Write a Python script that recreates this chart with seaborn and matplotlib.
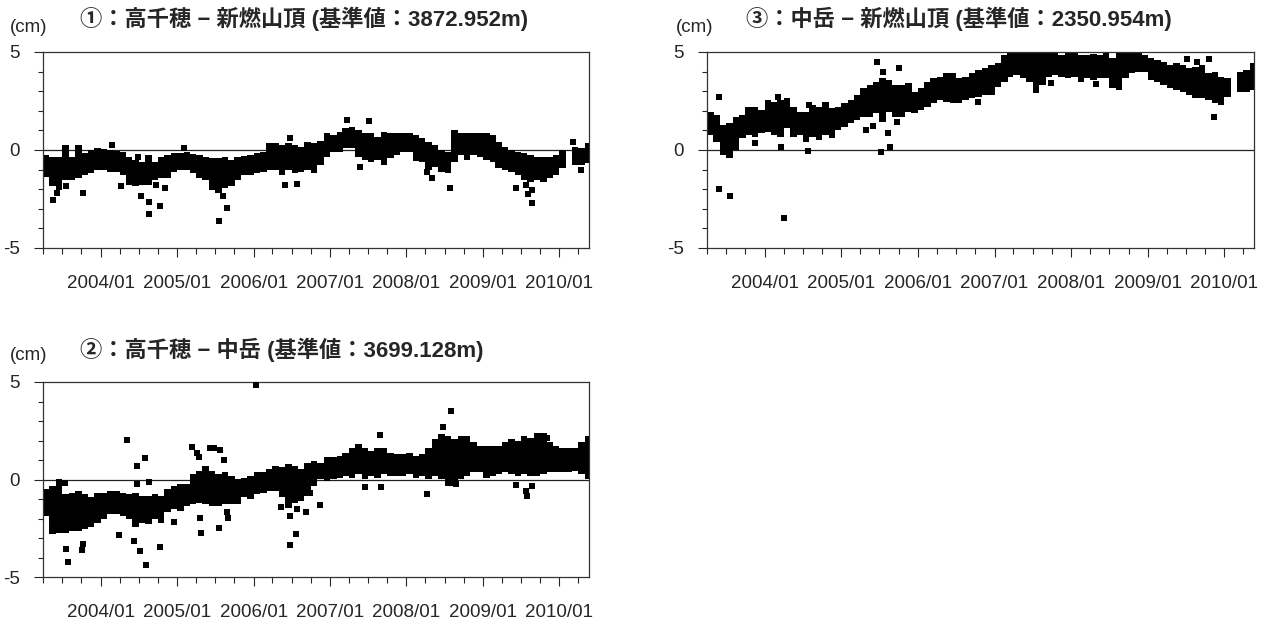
import numpy as np
import pandas as pd
import seaborn as sns
import matplotlib.pyplot as plt
import matplotlib.dates as mdates
from matplotlib.ticker import MultipleLocator

# monthly bins, 2003/04 .. 2010/05
months = pd.date_range('2003-04-01', '2010-05-01', freq='MS')
start = pd.Timestamp('2003-04-01')
nan = np.nan

# (1) Takachiho - Shinmoe summit : upper / lower edge of the daily cloud per month (cm)
p1_high = [-0.25, -0.34, -0.34, 0.25, -0.34, 0.25, -0.17, 0.0, 0.08, 0.03,
           0.0, -0.03, -0.08, -0.34, -0.5, -0.6, -0.25, -0.6, -0.34, -0.25,
           -0.17, -0.14, -0.08, -0.2, -0.25, -0.34, -0.42, -0.42, -0.34, -0.5,
           -0.34, -0.3, -0.25, -0.17, -0.08, 0.34, 0.34, 0.25, 0.34, 0.25,
           0.17, 0.42, 0.34, 0.45, 0.85, 0.76, 0.93, 1.1, 1.19, 1.02,
           0.85, 0.85, 0.68, 0.93, 0.85, 0.85, 0.85, 0.85, 0.76, 0.59,
           0.42, 0.25, 0.0, -0.08, 1.02, 0.85, 0.85, 0.85, 0.88, 0.85,
           0.76, 0.42, 0.17, 0.0, -0.08, -0.17, -0.25, -0.34, -0.34, -0.34,
           -0.25, 0.0, nan, 0.17, 0.08, 0.34]
p1_low = [-1.36, -1.86, -2.03, -1.53, -1.53, -1.44, -1.27, -1.19, -1.02, -1.02,
          -1.1, -1.1, -1.27, -1.78, -1.86, -1.78, -1.78, -1.53, -1.44, -1.44,
          -1.1, -1.02, -1.02, -1.19, -1.44, -1.53, -2.03, -2.2, -1.95, -1.86,
          -1.53, -1.27, -1.27, -1.19, -1.1, -1.02, -1.02, -1.27, -1.02, -1.19,
          -1.1, -1.02, -1.19, -0.76, -0.34, -0.08, -0.08, 0.08, 0.08, -0.34,
          -0.5, -0.6, -0.5, -0.76, -0.42, -0.25, -0.08, -0.08, -0.34, -0.6,
          -1.02, -0.85, -1.1, -1.19, -0.6, -0.25, -0.5, -0.25, -0.34, -0.5,
          -0.6, -0.93, -1.02, -1.1, -1.27, -1.53, -1.61, -1.53, -1.61, -1.44,
          -1.27, -0.93, nan, -0.76, -0.76, -0.68]
# isolated points: months after 2003/04/01, value in cm
p1_out_m = [1.6, 2.2, 3.6, 6.2, 10.8, 12.2, 14.9, 15.4, 16.7, 16.7, 17.8, 18.4, 19.1,
            22.1, 27.6, 28.3, 28.8, 37.9, 38.7, 39.8, 47.7, 51.1, 49.8, 60.2, 61.1,
            63.9, 58.5, 74.3, 75.8, 76.1, 76.7, 76.8, 83.2, 84.4]
p1_out_cm = [-2.54, -2.2, -1.86, -2.2, 0.25, -1.86, -0.34, -2.37, -2.63, -3.25, -1.78, -2.85, -1.92,
             0.08, -3.61, -2.37, -2.97, -1.78, 0.59, -1.73, 1.53, 1.49, -0.85, -1.10, -1.44,
             -1.92, -0.42, -1.92, -1.78, -2.25, -2.03, -2.68, 0.42, -1.02]

# (2) Takachiho - Nakadake
p2_high = [-0.50, -0.32, 0.02, -0.75, -0.67, -0.58, -0.75, -0.92, -0.67, -0.67,
           -0.58, -0.58, -0.67, -0.75, -0.67, -0.84, -0.84, -0.75, -0.84, -0.50,
           -0.32, -0.24, -0.24, 0.27, 0.44, 0.70, 0.44, 0.27, 0.36, 0.19,
           0.02, 0.10, 0.19, 0.36, 0.36, 0.53, 0.70, 0.62, 0.79, 0.70,
           0.53, 0.87, 0.96, 0.87, 1.13, 1.13, 1.21, 1.38, 1.64, 1.81,
           1.64, 1.47, 1.64, 1.64, 1.38, 1.30, 1.30, 1.38, 1.21, 1.30,
           1.64, 2.07, 2.32, 2.24, 2.07, 2.24, 2.24, 1.90, 1.73, 1.73,
           1.73, 1.73, 1.90, 2.07, 1.98, 2.24, 2.15, 2.41, 2.41, 1.90,
           1.73, 1.64, 1.64, 1.64, 1.90, 2.24]
p2_low = [-1.86, -2.80, -2.72, -2.72, -2.63, -2.63, -2.55, -2.46, -2.21, -2.03,
          -1.78, -1.78, -1.86, -2.03, -2.46, -2.21, -2.29, -2.03, -2.21, -1.69,
          -1.52, -1.61, -1.35, -1.26, -1.18, -1.26, -1.35, -1.35, -1.26, -1.26,
          -1.26, -0.92, -1.01, -0.75, -0.67, -0.58, -0.58, -0.92, -1.44, -1.18,
          -1.09, -0.84, -0.32, 0.02, -0.07, 0.02, 0.10, 0.19, 0.10, 0.27,
          0.02, 0.19, 0.10, 0.27, 0.19, 0.19, 0.19, 0.27, 0.10, 0.19,
          0.02, 0.19, 0.02, -0.32, -0.32, 0.02, 0.19, 0.36, 0.36, 0.10,
          0.19, 0.27, 0.36, 0.27, 0.19, 0.27, 0.19, 0.19, 0.27, 0.36,
          0.36, 0.36, 0.36, 0.44, 0.27, 0.02]
p2_out_m = [3.4, 3.6, 3.9, 6.1, 6.2, 11.9, 13.2, 14.3, 14.7, 14.8, 15.2, 16.0, 16.1, 16.6,
            18.4, 20.6, 23.4, 24.2, 24.5, 24.7, 24.8, 26.2, 26.8, 27.6, 27.8, 28.4, 28.9,
            29.1, 33.5, 37.4, 38.7, 38.7, 39.7, 39.8, 41.3, 41.9, 43.4, 50.5, 52.9, 53.1,
            60.3, 62.8, 64.0, 64.8, 74.3, 75.8, 76.0, 76.7, 79.1]
p2_out_cm = [-0.19, -3.57, -4.22, -3.61, -3.32, -2.85, 2.02, -3.15, -0.24, 0.70, -3.66, 1.08, -4.39, -0.12,
             -3.45, -2.17, 1.68, 1.35, 1.13, -1.95, -2.72, 1.61, 1.64, -2.51, 1.52, 0.99, -1.69,
             -1.95, 4.84, -1.40, -1.86, -3.37, -2.80, -1.49, -1.66, -0.70, -1.32, -0.38, 2.29, -0.38,
             -0.75, 2.67, 3.52, -0.24, -0.29, -0.58, -0.87, -0.32, 2.15]

# (3) Nakadake - Shinmoe summit
p3_high = [1.96, 1.79, 1.28, 1.36, 1.70, 1.79, 2.21, 2.21, 2.04, 2.55,
           2.47, 2.55, 2.64, 2.21, 1.96, 1.96, 2.30, 2.21, 2.47, 2.13,
           2.21, 2.38, 2.55, 2.81, 3.15, 3.32, 3.49, 3.66, 3.57, 3.32,
           3.32, 3.40, 2.98, 3.15, 3.49, 3.66, 3.74, 3.91, 3.91, 3.66,
           3.74, 3.91, 4.08, 4.17, 4.34, 4.42, 4.85, 4.93, 5.0, 5.0,
           5.0, 5.0, 5.0, 5.0, 5.0, 4.85, 4.93, 5.0, 4.85, 4.85,
           4.88, 4.85, 4.93, 4.68, 4.93, 5.0, 5.0, 5.0, 4.85, 4.68,
           4.59, 4.51, 4.34, 4.42, 4.34, 4.17, 4.25, 4.34, 3.91, 4.0,
           3.74, 3.66, nan, 4.0, 4.08, 4.42]
p3_low = [0.77, 0.43, -0.26, -0.43, 0.0, 0.60, 0.77, 0.68, 0.85, 0.94,
          0.77, 0.68, 1.11, 0.68, 0.77, 0.43, 0.68, 0.51, 0.77, 0.60,
          1.02, 1.19, 1.36, 1.53, 1.70, 1.70, 1.87, 1.45, 1.96, 1.70,
          1.70, 1.96, 1.87, 2.04, 2.21, 2.38, 2.55, 2.47, 2.38, 2.38,
          2.55, 2.64, 2.72, 2.81, 2.81, 3.23, 3.49, 3.74, 3.83, 3.66,
          3.49, 2.89, 3.32, 3.74, 3.83, 3.74, 3.66, 3.74, 3.49, 3.66,
          3.57, 3.66, 3.66, 3.15, 3.06, 3.66, 3.91, 4.0, 4.0, 3.57,
          3.49, 3.32, 3.15, 3.06, 2.98, 2.81, 2.64, 2.64, 2.55, 2.38,
          2.30, 2.72, nan, 2.98, 2.98, 3.06]
p3_out_m = [1.9, 1.9, 3.6, 7.5, 11.1, 11.6, 12.0, 15.8, 16.0, 24.9, 26.0, 26.7, 27.2,
            27.6, 28.4, 28.6, 30.1, 29.7, 42.5, 53.9, 60.9, 75.2, 76.7, 78.7, 79.4]
p3_out_cm = [2.72, -1.99, -2.33, 0.37, 2.72, 0.17, -3.47, -0.03, 2.30, 1.02, 1.24, 4.47, -0.09,
             4.0, 0.85, 0.17, 4.2, 1.45, 2.47, 3.44, 3.35, 4.64, 4.51, 4.64, 1.67]

titles = ['①：高千穂 − 新燃山頂 (基準値：3872.952m)',
          '②：高千穂 − 中岳 (基準値：3699.128m)',
          '③：中岳 − 新燃山頂 (基準値：2350.954m)']

sns.set_style('ticks')
plt.rcParams['font.family'] = ['Liberation Sans', 'Noto Sans CJK JP']
plt.rcParams['axes.unicode_minus'] = False

fig = plt.figure(figsize=(12.66, 6.26), dpi=100)
W, H = 1266, 626


def panel(x0, y0, x1, y1):
    return fig.add_axes([x0 / W, 1 - y1 / H, (x1 - x0) / W, (y1 - y0) / H])


def draw(ax, high, low, out_m, out_cm):
    high = np.array(high, float)
    low = np.array(low, float)
    ax.axhline(0, color='#222222', lw=0.9, zorder=1)
    ax.bar(months, high - low, bottom=low, width=31, align='edge',
           color='black', linewidth=0, zorder=2)
    pts = pd.DataFrame({
        'date': start + pd.to_timedelta(np.array(out_m) * 30.44, unit='D'),
        'cm': out_cm})
    sns.scatterplot(data=pts, x='date', y='cm', marker='s', s=19, color='black',
                    linewidth=0, legend=False, ax=ax, zorder=3, clip_on=True)
    ax.set_xlim(pd.Timestamp('2003-04-01'), pd.Timestamp('2010-05-22'))
    ax.set_ylim(-5, 5)
    ax.yaxis.set_major_locator(MultipleLocator(5))
    ax.yaxis.set_minor_locator(MultipleLocator(1))
    ax.xaxis.set_major_locator(mdates.YearLocator(month=1))
    ax.xaxis.set_minor_locator(mdates.MonthLocator(bymonth=[1, 4, 7, 10]))
    ax.xaxis.set_major_formatter(mdates.DateFormatter('%Y/%m'))
    ax.set_xlabel('')
    ax.set_ylabel('')
    ax.tick_params(axis='x', which='major', length=6.5, width=0.8, pad=13, labelsize=13.5)
    ax.tick_params(axis='x', which='minor', length=4.5, width=0.8)
    ax.tick_params(axis='y', which='major', length=6.5, width=0.8, pad=10, labelsize=13.5)
    ax.tick_params(axis='y', which='minor', length=3.5, width=0.8)
    for s in ax.spines.values():
        s.set_visible(True)
        s.set_linewidth(0.9)
        s.set_color('#333333')


ax1 = panel(43, 52, 589, 248)
ax3 = panel(707, 52, 1254, 248)
ax2 = panel(43, 382, 589, 577)

draw(ax1, p1_high, p1_low, p1_out_m, p1_out_cm)
draw(ax2, p2_high, p2_low, p2_out_m, p2_out_cm)
draw(ax3, p3_high, p3_low, p3_out_m, p3_out_cm)

for (tx, ty, cx, cy), t in zip([(80, 19, 10, 28), (80, 350, 10, 356), (746, 19, 676, 28)], titles):
    fig.text(tx / W, 1 - ty / H, t, fontsize=16, fontweight='bold', ha='left', va='center')
    fig.text(cx / W, 1 - cy / H, '(cm)', fontsize=13.5, ha='left', va='center')

fig.savefig('out.png', dpi=100)
